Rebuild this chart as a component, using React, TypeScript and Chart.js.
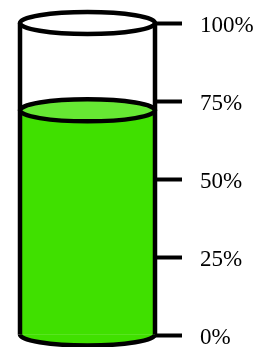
import React, { useEffect, useRef } from 'react';
import { Chart, registerables } from 'chart.js';

Chart.register(...registerables);

const categories = ['Level'];
const values = [72];
const tickValues = [0, 25, 50, 75, 100];
const tickLabels = ['0%', '25%', '50%', '75%', '100%'];

const BODY_GREEN = '#40E000';
const TOP_GREEN = '#66E833';
const OUTLINE = '#000000';

const cylinderPlugin = {
  id: 'cylinder',
  afterDatasetsDraw(chart: any) {
    const meta = chart.getDatasetMeta(0);
    const bar = meta.data[0];
    if (!bar) return;
    const yScale = chart.scales.y;
    const { x, y, base, width } = bar.getProps(['x', 'y', 'base', 'width'], true);
    const left = x - width / 2;
    const right = x + width / 2;
    const rx = width / 2;
    const ry = 11;
    const top = yScale.getPixelForValue(tickValues[tickValues.length - 1]);
    const ctx = chart.ctx;
    ctx.save();
    ctx.lineWidth = 4.5;
    ctx.strokeStyle = OUTLINE;

    // bottom of liquid (lower half ellipse)
    ctx.beginPath();
    ctx.ellipse(x, base, rx, ry, 0, 0, Math.PI);
    ctx.closePath();
    ctx.fillStyle = BODY_GREEN;
    ctx.fill();

    // liquid surface
    ctx.beginPath();
    ctx.ellipse(x, y, rx, ry, 0, 0, Math.PI * 2);
    ctx.fillStyle = TOP_GREEN;
    ctx.fill();
    ctx.stroke();

    // sides
    ctx.beginPath();
    ctx.moveTo(left, top);
    ctx.lineTo(left, base);
    ctx.moveTo(right, top);
    ctx.lineTo(right, base);
    ctx.stroke();

    // bottom arc
    ctx.beginPath();
    ctx.ellipse(x, base, rx, ry, 0, 0, Math.PI);
    ctx.stroke();

    // top rim
    ctx.beginPath();
    ctx.ellipse(x, top, rx, ry, 0, 0, Math.PI * 2);
    ctx.stroke();
    ctx.restore();
  },
};

export default function App() {
  const canvasRef = useRef<HTMLCanvasElement | null>(null);

  useEffect(() => {
    const canvas = canvasRef.current;
    if (!canvas) return;
    const chart = new Chart(canvas, {
      type: 'bar',
      data: {
        labels: categories,
        datasets: [
          {
            data: values,
            backgroundColor: BODY_GREEN,
            borderWidth: 0,
            barPercentage: 1,
            categoryPercentage: 1,
          },
        ],
      },
      options: {
        responsive: false,
        animation: false,
        events: [],
        layout: { padding: { left: 20, top: 23, bottom: 12, right: 0 } },
        plugins: {
          legend: { display: false },
          tooltip: { enabled: false },
          title: { display: false },
        },
        scales: {
          x: { display: false },
          y: {
            position: 'right',
            min: tickValues[0],
            max: tickValues[tickValues.length - 1],
            afterBuildTicks: (scale: any) => {
              scale.ticks = tickValues.map((v) => ({ value: v }));
            },
            afterFit: (scale: any) => {
              scale.width = 102;
              scale.paddingTop = 0;
              scale.paddingBottom = 0;
            },
            ticks: {
              callback: (v: any) => tickLabels[tickValues.indexOf(Number(v))],
              font: { family: 'Liberation Serif', size: 23 },
              color: '#000000',
              padding: 18,
              labelOffset: 3,
            },
            grid: {
              drawOnChartArea: false,
              drawTicks: true,
              tickLength: 27,
              tickWidth: 4,
              tickColor: '#000000',
            },
            border: { display: false },
          },
        },
      },
      plugins: [cylinderPlugin],
    });
    return () => chart.destroy();
  }, []);

  return (
    <div style={{ position: 'absolute', left: 0, top: 0, width: 257, height: 347 }}>
      <canvas ref={canvasRef} width={257} height={347} style={{ display: 'block' }} />
    </div>
  );
}
